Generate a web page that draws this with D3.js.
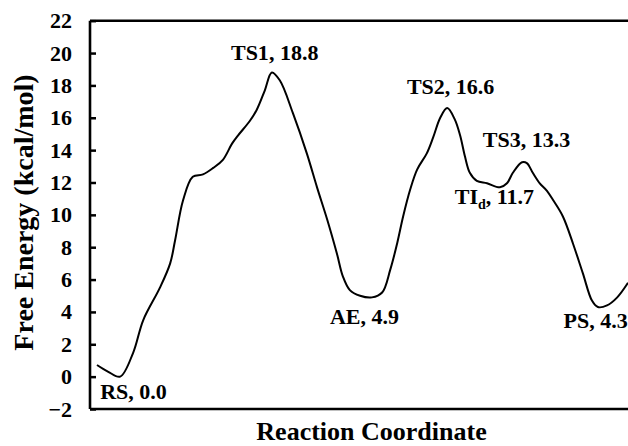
<!DOCTYPE html>
<html>
<head>
<meta charset="utf-8">
<script src="https://cdn.jsdelivr.net/npm/d3@7"></script>
<style>
  html, body { margin: 0; padding: 0; background: #fff; }
  svg { display: block; }
  text { font-family: "Liberation Serif", "Times New Roman", serif; font-weight: bold; fill: #000; }
</style>
</head>
<body>
<svg id="chart" width="628" height="446"></svg>
<script>
// Reaction coordinate (arbitrary units, 0-100) and free energy (kcal/mol)
const coord = [1.3, 3.4, 5.6, 8.0, 9.9, 13.0, 14.9, 15.8, 17.3, 19.1, 21.0, 22.9, 24.7, 26.4, 27.5, 29.7,
  31.0, 32.5, 33.8, 35.3, 37.7, 40.3, 42.2, 44.1, 45.9, 47.0, 48.3, 50.2, 52.4, 54.3, 55.8, 57.1,
  58.2, 59.5, 60.8, 62.6, 63.8, 65.1, 66.4, 67.8, 68.8, 69.7, 70.6, 71.9, 73.8, 76.2, 77.5, 78.6,
  80.3, 81.2, 82.3, 83.6, 84.9, 86.1, 87.9, 89.8, 91.6, 93.3, 94.4, 96.1, 98.0, 100];
const energy = [0.72, 0.3, 0.0, 1.46, 3.5, 5.5, 7.0, 8.4, 10.9, 12.35, 12.5, 12.9, 13.4, 14.4, 14.9, 15.8,
  16.5, 17.7, 18.8, 18.3, 16.3, 13.8, 11.7, 9.7, 7.6, 6.2, 5.35, 5.0, 4.9, 5.2, 6.6, 8.25,
  9.9, 11.55, 12.8, 13.8, 14.8, 16.0, 16.6, 15.9, 14.9, 13.6, 12.6, 12.1, 11.95, 11.7, 11.95, 12.6,
  13.25, 13.2, 12.6, 11.95, 11.5, 10.9, 9.9, 8.2, 6.4, 4.7, 4.3, 4.4, 4.9, 5.8];

// Stationary-point annotations
const labelNames = ["RS", "TS1", "AE", "TS2", "TI", "TS3", "PS"];
const labelSubs = ["", "", "", "", "d", "", ""];
const labelValues = ["0.0", "18.8", "4.9", "16.6", "11.7", "13.3", "4.3"];
const labelX = [1.9, 26.2, 44.6, 58.9, 67.8, 73.0, 88.0];   // reaction-coordinate position of label start
const labelY = [-1.4, 19.6, 3.23, 17.44, 10.65, 14.2, 3.03]; // energy position of label baseline

const yTicks = [-2, 0, 2, 4, 6, 8, 10, 12, 14, 16, 18, 20, 22];

const svg = d3.select("#chart");
const margin = { left: 90, top: 20.7, right: 0, bottom: 37 };
const W = 628, H = 446;

const x = d3.scaleLinear().domain([0, 100]).range([margin.left, W - margin.right]);
const y = d3.scaleLinear().domain([-2, 22]).range([H - margin.bottom, margin.top]);

// Y axis with inward ticks
const yAxis = d3.axisLeft(y).tickValues(yTicks).tickSizeInner(-6).tickSizeOuter(0).tickPadding(18)
  .tickFormat(d3.format("d"));
const gy = svg.append("g").attr("transform", `translate(${margin.left},0)`).call(yAxis);
gy.select(".domain").remove();
gy.selectAll(".tick line").attr("stroke", "#000").attr("stroke-width", 2.5);
gy.selectAll(".tick text").style("font-size", "22px").attr("fill", "#000");

// Frame lines: left, bottom, top
const frame = svg.append("g").attr("stroke", "#000").attr("stroke-width", 2.6).attr("fill", "none");
frame.append("line").attr("x1", x(0)).attr("x2", x(0)).attr("y1", y(22)).attr("y2", y(-2));
frame.append("line").attr("x1", x(0)).attr("x2", x(100)).attr("y1", y(-2)).attr("y2", y(-2));
frame.append("line").attr("x1", x(0)).attr("x2", x(100)).attr("y1", y(22)).attr("y2", y(22));

// Energy profile
const pts = coord.map((c, i) => [c, energy[i]]);
const line = d3.line().x(d => x(d[0])).y(d => y(d[1])).curve(d3.curveCatmullRom.alpha(0.5));
svg.append("path").datum(pts).attr("d", line)
  .attr("fill", "none").attr("stroke", "#000").attr("stroke-width", 2).attr("stroke-linejoin", "round");

// Annotations
labelNames.forEach((n, i) => {
  const t = svg.append("text").attr("x", x(labelX[i])).attr("y", y(labelY[i])).style("font-size", "22px");
  t.append("tspan").text(n);
  if (labelSubs[i]) {
    t.append("tspan").attr("dy", 5).style("font-size", "14px").text(labelSubs[i]);
    t.append("tspan").attr("dy", -5).text(", " + labelValues[i]);
  } else {
    t.append("tspan").text(", " + labelValues[i]);
  }
});

// Axis titles
svg.append("text").attr("x", 371.5).attr("y", 440).attr("text-anchor", "middle")
  .style("font-size", "26px").text("Reaction Coordinate");
svg.append("text").attr("transform", "translate(33,212.5) rotate(-90)").attr("text-anchor", "middle")
  .style("font-size", "28px").text("Free Energy (kcal/mol)");
</script>
</body>
</html>
